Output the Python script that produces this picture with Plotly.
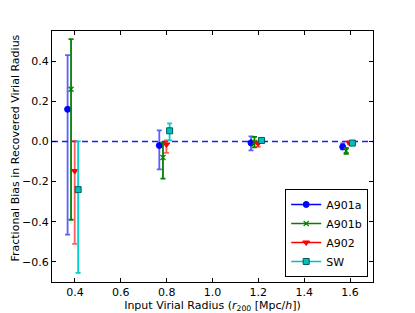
import plotly.graph_objects as go

# Data
series_names = ["A901a", "A901b", "A902", "SW"]
x_a901a = [0.368, 0.768, 1.168, 1.568]
y_a901a = [0.16, -0.02, -0.007, -0.027]
up_a901a = [0.27, 0.075, 0.032, 0.017]
dn_a901a = [0.624, 0.119, 0.037, 0.013]

x_a901b = [0.383, 0.784, 1.183, 1.583]
y_a901b = [0.26, -0.08, -0.005, -0.047]
up_a901b = [0.25, 0.075, 0.028, 0.015]
dn_a901b = [0.65, 0.105, 0.025, 0.015]

x_a902 = [0.399, 0.799, 1.199, 1.597]
y_a902 = [-0.147, -0.015, -0.01, -0.007]
up_a902 = [0.15, 0.02, 0.01, 0.007]
dn_a902 = [0.363, 0.042, 0.017, 0.007]

x_sw = [0.414, 0.813, 1.214, 1.61]
y_sw = [-0.24, 0.053, 0.005, -0.008]
up_sw = [0.24, 0.037, 0.008, 0.006]
dn_sw = [0.415, 0.048, 0.008, 0.006]

x_ticks = [0.4, 0.6, 0.8, 1.0, 1.2, 1.4, 1.6]
y_ticks = [-0.6, -0.4, -0.2, 0.0, 0.2, 0.4]

styles = [
    dict(name="A901a", x=x_a901a, y=y_a901a, up=up_a901a, dn=dn_a901a,
         color="rgb(0,0,255)", ecolor="rgba(40,40,255,0.75)", symbol="circle", size=6, lcolor="rgb(0,0,255)"),
    dict(name="A901b", x=x_a901b, y=y_a901b, up=up_a901b, dn=dn_a901b,
         color="rgb(0,128,0)", ecolor="rgb(0,128,0)", symbol="x-thin", size=5, lcolor="rgb(0,128,0)"),
    dict(name="A902", x=x_a902, y=y_a902, up=up_a902, dn=dn_a902,
         color="rgb(255,0,0)", ecolor="rgba(255,40,40,0.75)", symbol="triangle-down", size=6, lcolor="rgb(255,0,0)"),
    dict(name="SW", x=x_sw, y=y_sw, up=up_sw, dn=dn_sw,
         color="rgb(0,191,191)", ecolor="rgb(0,210,210)", symbol="square", size=6, lcolor="rgb(0,90,90)"),
]

fig = go.Figure()

# zero reference line
fig.add_trace(go.Scatter(x=[0.3, 1.7], y=[0, 0], mode="lines",
                         line=dict(color="rgb(30,30,255)", dash="6px,4px", width=1.6),
                         showlegend=False, hoverinfo="skip"))

for s in styles:
    is_x = s["symbol"] == "x-thin"
    mline = dict(width=1.2 if is_x else 1, color=s["color"] if is_x else s["lcolor"])
    fig.add_trace(go.Scatter(
        x=s["x"], y=s["y"], mode="markers", name=s["name"], showlegend=False,
        marker=dict(symbol=s["symbol"], size=s["size"], color=s["color"], line=mline),
        error_y=dict(type="data", symmetric=False, array=s["up"], arrayminus=s["dn"],
                     color=s["ecolor"], thickness=1.8, width=2.5),
    ))
    fig.add_trace(go.Scatter(
        x=[0.3], y=[-5], mode="lines+markers", name=s["name"], hoverinfo="skip",
        line=dict(color=s["color"], width=1.3),
        marker=dict(symbol=s["symbol"], size=s["size"], color=s["color"], line=mline),
    ))

# page body has an 8px margin, so the figure is offset by 8px; compensate
fig.update_layout(
    width=407, height=305,
    margin=dict(l=44, r=42, t=23, b=31, autoexpand=False),
    paper_bgcolor="white", plot_bgcolor="white",
    font=dict(family="DejaVu Sans", size=11, color="black"),
    legend=dict(x=0.985, y=0.02, xanchor="right", yanchor="bottom",
                bordercolor="black", borderwidth=1, bgcolor="white",
                font=dict(size=11), itemwidth=30, tracegroupgap=0),
    annotations=[dict(text="Fractional Bias in Recovered Virial Radius", textangle=-90,
                      xref="paper", yref="paper", x=-0.115, y=0.532,
                      xanchor="center", yanchor="middle", showarrow=False,
                      font=dict(size=11))],
)
fig.update_xaxes(range=[0.3, 1.7], tickvals=x_ticks, ticktext=[f"{v:.1f}" for v in x_ticks],
                 ticks="inside", ticklen=4, tickcolor="black", showline=True, linecolor="black",
                 linewidth=1, mirror="ticks", showgrid=False, zeroline=False, automargin=False,
                 title=dict(text="Input Virial Radius (<i>r</i><sub>200</sub> [Mpc/<i>h</i>])", standoff=0,
                            font=dict(size=11)))
fig.update_yaxes(range=[-0.7, 0.55], tickvals=y_ticks,
                 ticktext=[f"{v:.1f}".replace("-", "\u2212") for v in y_ticks],
                 ticks="inside", ticklen=4, tickcolor="black", showline=True, linecolor="black",
                 linewidth=1, mirror="ticks", showgrid=False, zeroline=False, automargin=False)

fig.write_html("out.html")
